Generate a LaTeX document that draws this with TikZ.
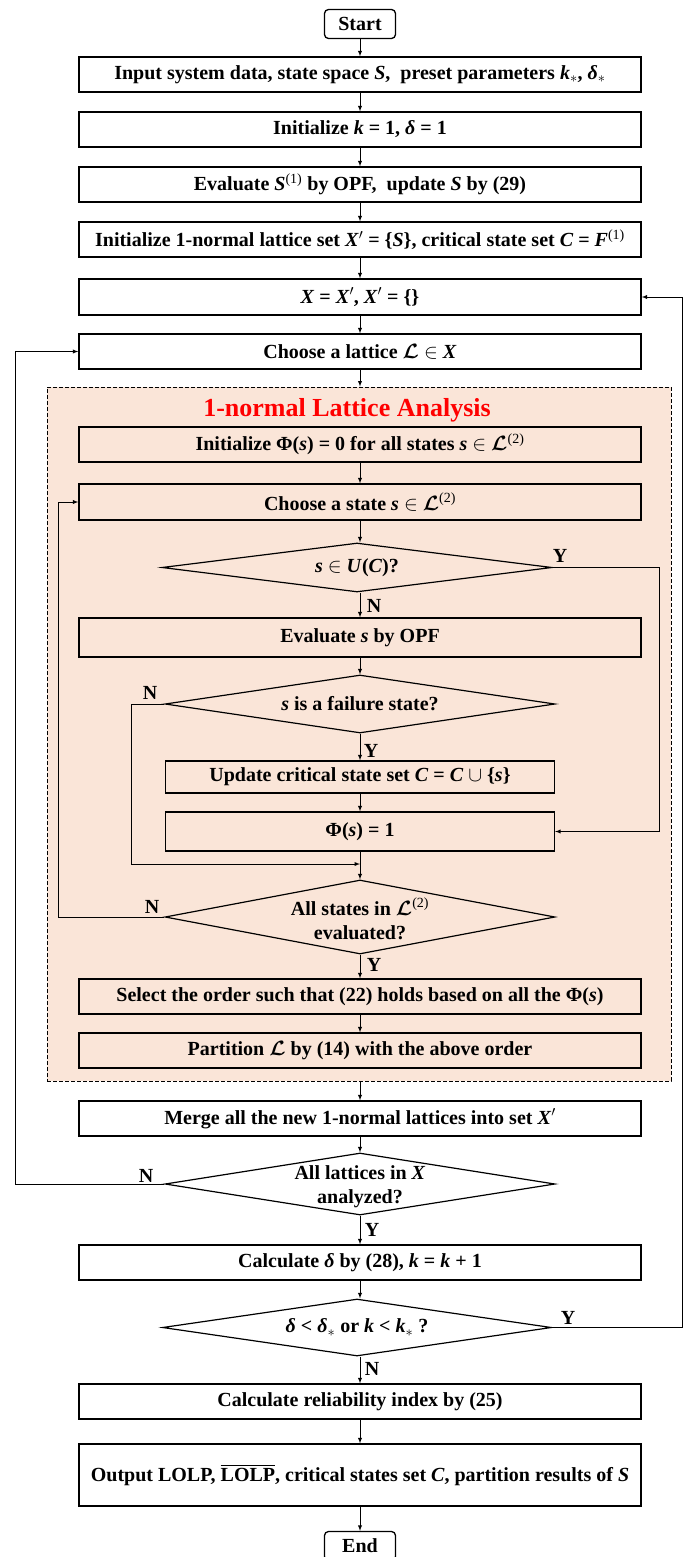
\documentclass[tikz,border=0pt]{standalone}
\usetikzlibrary{shapes.geometric}
\usepackage{amsmath}
\usepackage{amssymb}
\usepackage{bm}
\usepackage{fontspec}
\setmainfont{Liberation Serif}
\definecolor{peach}{RGB}{250,229,216}
\newcommand{\Lset}{$\bm{\mathcal{L}}$}

\begin{document}
\begin{tikzpicture}[x=1pt, y=-1pt, font=\fontsize{20}{24}\selectfont\bfseries]
\tikzset{box/.style = {rectangle, draw, line width=1.3pt, minimum width=562pt, minimum height=35pt, inner sep=0pt}}
\tikzset{term/.style = {rectangle, rounded corners=4pt, draw, line width=1.3pt, minimum width=71pt, minimum height=29pt, inner sep=0pt}}
\tikzset{dec/.style = {diamond, draw, line width=1.2pt, inner sep=0pt}}
\tikzset{edge/.style = {->,> = latex, line width=.9pt}}

\useasboundingbox (0,0) rectangle (683,1557);

\node[draw, dash pattern=on 4pt off 2pt, line width=.9pt, fill=peach, minimum width=624pt, minimum height=694pt] (lat) at (359,734) {};

\node[term] (start) at (360,24) {Start};
\node[box] (inp) at (360,74.5) {Input system data, state space \textit{S},\ \ preset parameters \textit{k}$_*$, \textit{δ}$_*$};
\node[box] (ini) at (360,129.5) {Initialize \textit{k} = 1, \textit{δ} = 1};
\node[box] (evs) at (360,184.5) {Evaluate \textit{S}\textsuperscript{\mdseries(1)} by OPF,\ \ update \textit{S} by (29)};
\node[box] (inl) at (360,239.5) {Initialize 1-normal lattice set \textit{X}$'$ = \{\textit{S}\}, critical state set \textit{C} = \textit{F}\textsuperscript{\mdseries(1)}};
\node[box, minimum height=36pt] (xx) at (360,297) {\textit{X} = \textit{X}$'$, \textit{X}$'$ = \{\}};
\node[box] (chl) at (360,351.5) {Choose a lattice \Lset\ $\in$ \textit{X}};

\node[text=red, font=\fontsize{26}{30}\selectfont\bfseries] (ttl) at (347,410) {1-normal Lattice Analysis};
\node[box] (iphi) at (360,444.5) {Initialize Φ(\textit{s}) = 0 for all states \textit{s} $\in$ \Lset\textsuperscript{\mdseries(2)}};
\node[box, minimum height=36pt] (chs) at (360,502) {Choose a state \textit{s} $\in$ \Lset\textsuperscript{\mdseries(2)}};
\node[dec, minimum width=390pt, minimum height=49pt] (d1) at (357,567.5) {};
\node (d1t) at (d1) {\textit{s} $\in$ \textit{U}(\textit{C})?};
\node[box, minimum height=39pt] (evo) at (360,637.5) {Evaluate \textit{s} by OPF};
\node[dec, minimum width=390pt, minimum height=58pt] (d2) at (360,704) {};
\node (d2t) at (d2) {\textit{s} is a failure state?};
\node[box, minimum width=389pt, minimum height=32pt] (upd) at (360,777) {Update critical state set \textit{C} = \textit{C} $\cup$ \{\textit{s}\}};
\node[box, minimum width=389pt, minimum height=39pt] (phi) at (360,831.5) {Φ(\textit{s}) = 1};
\node[dec, minimum width=390pt, minimum height=74pt] (d3) at (360,917) {};
\node[align=center] (d3t) at (360,919) {All states in \Lset\textsuperscript{\mdseries(2)}\\evaluated?};
\node[box] (sel) at (360,996.5) {Select the order such that (22) holds based on all the Φ(\textit{s})};
\node[box] (par) at (360,1050.5) {Partition \Lset\ by (14) with the above order};

\node[box] (mrg) at (360,1118.5) {Merge all the new 1-normal lattices into set \textit{X}$'$};
\node[dec, minimum width=390pt, minimum height=62pt] (d4) at (360,1184) {};
\node[align=center] (d4t) at (360,1186.5) {All lattices in \textit{X}\\analyzed?};
\node[box] (cal) at (360,1262.5) {Calculate \textit{δ} by (28), \textit{k} = \textit{k} + 1};
\node[dec, minimum width=389pt, minimum height=57pt] (d5) at (357,1327.5) {};
\node (d5t) at (d5) {\textit{δ} < \textit{δ}$_*$ or \textit{k} < \textit{k}$_*$ ?};
\node[box] (rel) at (360,1401.5) {Calculate reliability index by (25)};
\node[box, minimum height=62pt] (out) at (360,1475) {Output LOLP, $\overline{\mbox{LOLP}}$, critical states set \textit{C}, partition results of \textit{S}};
\node[term] (end) at (360,1546) {End};

\coordinate (r1) at (659,0);
\coordinate (l2) at (131,0);
\coordinate (j2) at (360,864);
\coordinate (l3) at (58,0);
\coordinate (l4) at (15,0);
\coordinate (r5) at (682,0);

\foreach \a/\b in {start/inp, inp/ini, ini/evs, evs/inl, inl/xx, xx/chl, chl/lat, iphi/chs, chs/d1, d1/evo, evo/d2, d2/upd, upd/phi, phi/d3, d3/sel, sel/par, lat/mrg, mrg/d4, d4/cal, cal/d5, d5/rel, rel/out, out/end}
   {\draw[edge] (\a.south -| 360,0) -- (\b.north -| 360,0);}

\draw[edge] (d1.east) -| (r1 |- phi.east) -- (phi.east);
\draw[edge] (d2.west) -| (l2 |- j2) -- (j2);
\draw[edge] (d3.west) -| (l3 |- chs.west) -- (chs.west);
\draw[edge] (d4.west) -| (l4 |- chl.west) -- (chl.west);
\draw[edge] (d5.east) -| (r5 |- xx.east) -- (xx.east);

\node (y1) at (560,556) {Y};
\node (n1) at (374,606) {N};
\node (n2) at (150,693) {N};
\node (y2) at (371,751) {Y};
\node (n3) at (152,907) {N};
\node (y3) at (374,965) {Y};
\node (n4) at (146,1176) {N};
\node (y4) at (372,1230) {Y};
\node (y5) at (568,1318) {Y};
\node (n5) at (372,1369) {N};

\end{tikzpicture}
\end{document}
